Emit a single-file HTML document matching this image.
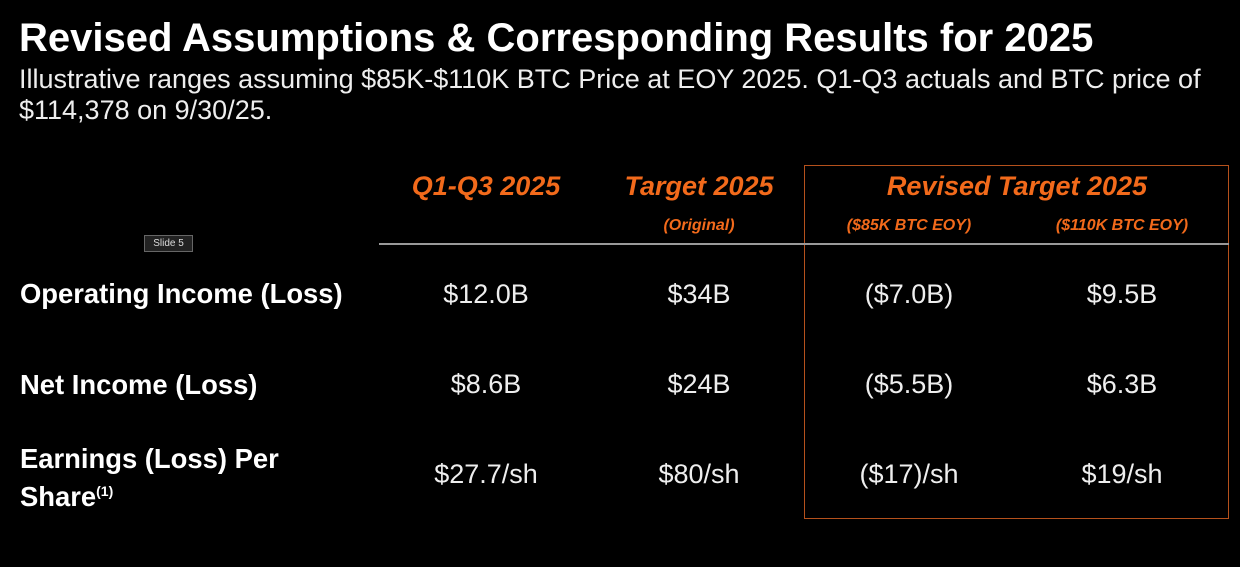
<!DOCTYPE html>
<html><head><style>
body{margin:0;width:1240px;height:567px;background:#000;overflow:hidden;font-family:"Liberation Sans",Arial,sans-serif;color:#fff;position:relative}
.a{position:absolute;white-space:nowrap}
.c{transform:translateX(-50%)}
.h{color:#f26a1b;font-weight:bold;font-style:italic;font-size:27px}
.s{color:#f26a1b;font-weight:bold;font-style:italic;font-size:16px}
.l{font-weight:bold;font-size:27.4px}
.v{font-size:27px;color:#eee}
</style></head><body>
<div class="a" style="left:19px;top:16px;font-size:40px;font-weight:bold">Revised Assumptions &amp; Corresponding Results for 2025</div>
<div class="a" style="left:19px;top:64px;font-size:27px;line-height:31px;color:#eee">Illustrative ranges assuming $85K-$110K BTC Price at EOY 2025. Q1-Q3 actuals and BTC price of<br>$114,378 on 9/30/25.</div>
<div class="a" style="left:804px;top:165px;width:423px;height:352px;border:1px solid #b5511c"></div>
<div class="a" style="left:379px;top:243px;width:850px;height:2px;background:#999"></div>
<div class="a" style="left:144px;top:235px;width:47px;height:15px;background:#222;border:1px solid #666;font-size:10px;line-height:15px;text-align:center;color:#ddd">Slide 5</div>
<div class="a c h" style="left:486px;top:171px">Q1-Q3 2025</div>
<div class="a c h" style="left:699px;top:171px">Target 2025</div>
<div class="a c h" style="left:1017px;top:171px">Revised Target 2025</div>
<div class="a c s" style="left:699px;top:217px">(Original)</div>
<div class="a c s" style="left:909px;top:217px">($85K BTC EOY)</div>
<div class="a c s" style="left:1122px;top:217px">($110K BTC EOY)</div>
<div class="a l" style="left:20px;top:278px">Operating Income (Loss)</div>
<div class="a l" style="left:20px;top:369px">Net Income (Loss)</div>
<div class="a l" style="left:20px;top:443px;line-height:32px;white-space:normal;width:300px">Earnings (Loss) Per<br>Share<sup style="font-size:14px">(1)</sup></div>
<div class="a c v" style="left:486px;top:279px">$12.0B</div>
<div class="a c v" style="left:699px;top:279px">$34B</div>
<div class="a c v" style="left:909px;top:279px">($7.0B)</div>
<div class="a c v" style="left:1122px;top:279px">$9.5B</div>
<div class="a c v" style="left:486px;top:369px">$8.6B</div>
<div class="a c v" style="left:699px;top:369px">$24B</div>
<div class="a c v" style="left:909px;top:369px">($5.5B)</div>
<div class="a c v" style="left:1122px;top:369px">$6.3B</div>
<div class="a c v" style="left:486px;top:459px">$27.7/sh</div>
<div class="a c v" style="left:699px;top:459px">$80/sh</div>
<div class="a c v" style="left:909px;top:459px">($17)/sh</div>
<div class="a c v" style="left:1122px;top:459px">$19/sh</div>
</body></html>
